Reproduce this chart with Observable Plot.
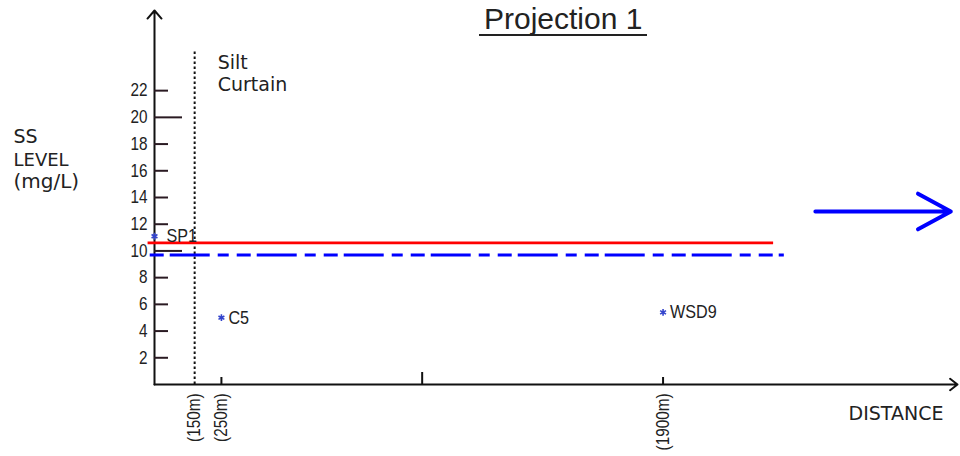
<!DOCTYPE html>
<html>
<head>
<meta charset="utf-8">
<script src="https://cdn.jsdelivr.net/npm/d3@7"></script>
<script src="https://cdn.jsdelivr.net/npm/@observablehq/plot@0.6"></script>
<style>
  html, body { margin: 0; padding: 0; background: #fff; }
  #wrap { position: relative; width: 960px; height: 456px; overflow: hidden; }
  #title {
    position: absolute; left: 479px; top: 4px;
    font-family: "Liberation Sans", Arial, sans-serif; font-size: 30px; line-height: 29px;
    color: #222; padding: 0 5px 1px 5px; border-bottom: 2px solid #222; white-space: nowrap;
  }
</style>
</head>
<body>
<div id="wrap">
  <div id="chart"></div>
  <div id="title">Projection 1</div>
</div>
<script>
// ---- data ----
const yTicks = [2, 4, 6, 8, 10, 12, 14, 16, 18, 20, 22];
const majorYTicks = [10, 20];
const xTickValues = [250, 1000, 1900];
const xLabelPositions = [150, 250, 1900];
const xTickLabels = ["(150m)", "(250m)", "(1900m)"];
const stationNames = ["SP1", "C5", "WSD9"];
const stationDistance = [0, 250, 1900];
const stationSS = [11.1, 5.0, 5.4];
const siltCurtainDistance = 150;
const redLevel = 10.6;
const redExtent = [-24, 2313];
const blueLevel = 9.7;
const blueExtent = [-16, 2353];
const flowArrow = {from: 2469, to: 2975, level: 12.95};

// ---- layout ----
const W = 960, H = 456;
const mL = 154, mR = 3, mT = 10, mB = 72;
const xMax = 3000, yMax = 28;
const pxPerX = (W - mL - mR) / xMax;
const pxPerY = (H - mT - mB) / yMax;
const narrow = "'Liberation Sans', Arial, sans-serif";
const dejavu = "'DejaVu Sans', sans-serif";

const stations = stationNames.map((name, i) => ({name, x: stationDistance[i], y: stationSS[i]}));
const xLabels = xLabelPositions.map((x, i) => ({x, label: xTickLabels[i]}));

const chart = Plot.plot({
  width: W, height: H,
  marginLeft: mL, marginRight: mR, marginTop: mT, marginBottom: mB,
  x: {domain: [0, xMax], axis: null},
  y: {domain: [0, yMax], axis: null},
  style: {background: "#fff", overflow: "visible"},
  marks: [
    // axes with arrow heads
    Plot.arrow([0], {x1: 0, y1: 0, x2: 0, y2: yMax, stroke: "#111", strokeWidth: 2, headAngle: 82, headLength: 8}),
    Plot.arrow([0], {x1: 0, y1: 0, x2: xMax, y2: 0, stroke: "#111", strokeWidth: 2, headAngle: 75, headLength: 7}),
    // y ticks drawn inward
    Plot.ruleY(yTicks, {y: d => d, x1: 0, x2: d => (majorYTicks.includes(d) ? 28 : 14) / pxPerX, stroke: "#2a1a22", strokeWidth: 2}),
    Plot.text(yTicks, {x: 0, y: d => d, text: d => String(d), textAnchor: "end", dx: -7, fontSize: 18, fontFamily: narrow, fill: "#222"}),
    // x ticks
    Plot.ruleX(xTickValues, {x: d => d, y1: 0, y2: d => (d === 1000 ? 12 : 7) / pxPerY, stroke: "#111", strokeWidth: 2}),
    Plot.text(xLabels, {x: "x", y: 0, text: "label", rotate: -90, textAnchor: "end", dy: 9, fontSize: 18, fontFamily: narrow, fill: "#222"}),
    // silt curtain
    Plot.ruleX([siltCurtainDistance], {x: d => d, y1: 0, y2: 25, stroke: "#111", strokeWidth: 2, strokeDasharray: "2.5,2.5"}),
    Plot.text(["Silt\nCurtain"], {x: 236, y: 24.78, lineAnchor: "top", textAnchor: "start", lineHeight: 1.16, fontSize: 19, fontFamily: dejavu, fill: "#222"}),
    // levels
    Plot.ruleY([redLevel], {y: d => d, x1: redExtent[0], x2: redExtent[1], stroke: "#ff0000", strokeWidth: 2.7}),
    Plot.ruleY([blueLevel], {y: d => d, x1: blueExtent[0], x2: blueExtent[1], stroke: "#0000ff", strokeWidth: 3, strokeDasharray: "14,6,40,8,11,8"}),
    // stations
    Plot.dot(stations, {x: "x", y: "y", symbol: "asterisk", r: 3.2, stroke: "#3344cc", strokeWidth: 1.6}),
    Plot.text(stations.filter(d => d.name === "SP1"), {x: "x", y: "y", text: "name", dx: 12, textAnchor: "start", fontSize: 19, fontFamily: narrow, fill: "#222"}),
    Plot.text(stations.filter(d => d.name !== "SP1"), {x: "x", y: "y", text: "name", dx: 7, textAnchor: "start", fontSize: 19, fontFamily: narrow, fill: "#222"}),
    // flow arrow
    Plot.arrow([flowArrow], {x1: "from", x2: "to", y1: "level", y2: "level", stroke: "#0000ff", strokeWidth: 4, headAngle: 57, headLength: 14}),
    // axis labels
    Plot.text(["SS"], {frameAnchor: "top-left", lineAnchor: "middle", dx: -141, dy: 126, textAnchor: "start", fontSize: 19, fontFamily: dejavu, fill: "#222"}),
    Plot.text(["LEVEL"], {frameAnchor: "top-left", lineAnchor: "middle", dx: -141, dy: 150, textAnchor: "start", fontSize: 18, fontFamily: dejavu, fill: "#222"}),
    Plot.text(["(mg/L)"], {frameAnchor: "top-left", lineAnchor: "middle", dx: -141, dy: 171, textAnchor: "start", fontSize: 20, fontFamily: dejavu, fill: "#222"}),
    Plot.text(["DISTANCE"], {frameAnchor: "bottom-right", lineAnchor: "middle", dx: -14, dy: 29.5, textAnchor: "end", fontSize: 19, fontFamily: dejavu, fill: "#222"})
  ]
});

// condense the plotter-style labels (narrow CAD lettering) horizontally
d3.select(chart).selectAll("g[font-family*='Liberation'] text").each(function () {
  const t = this.getAttribute("transform");
  if (t) {
    this.setAttribute("transform", t + " scale(0.85,1)");
  } else {
    const x = +this.getAttribute("x") || 0, y = +this.getAttribute("y") || 0;
    this.setAttribute("transform", `translate(${x},${y}) scale(0.85,1) translate(${-x},${-y})`);
  }
});
document.getElementById("chart").appendChild(chart);
</script>
</body>
</html>
